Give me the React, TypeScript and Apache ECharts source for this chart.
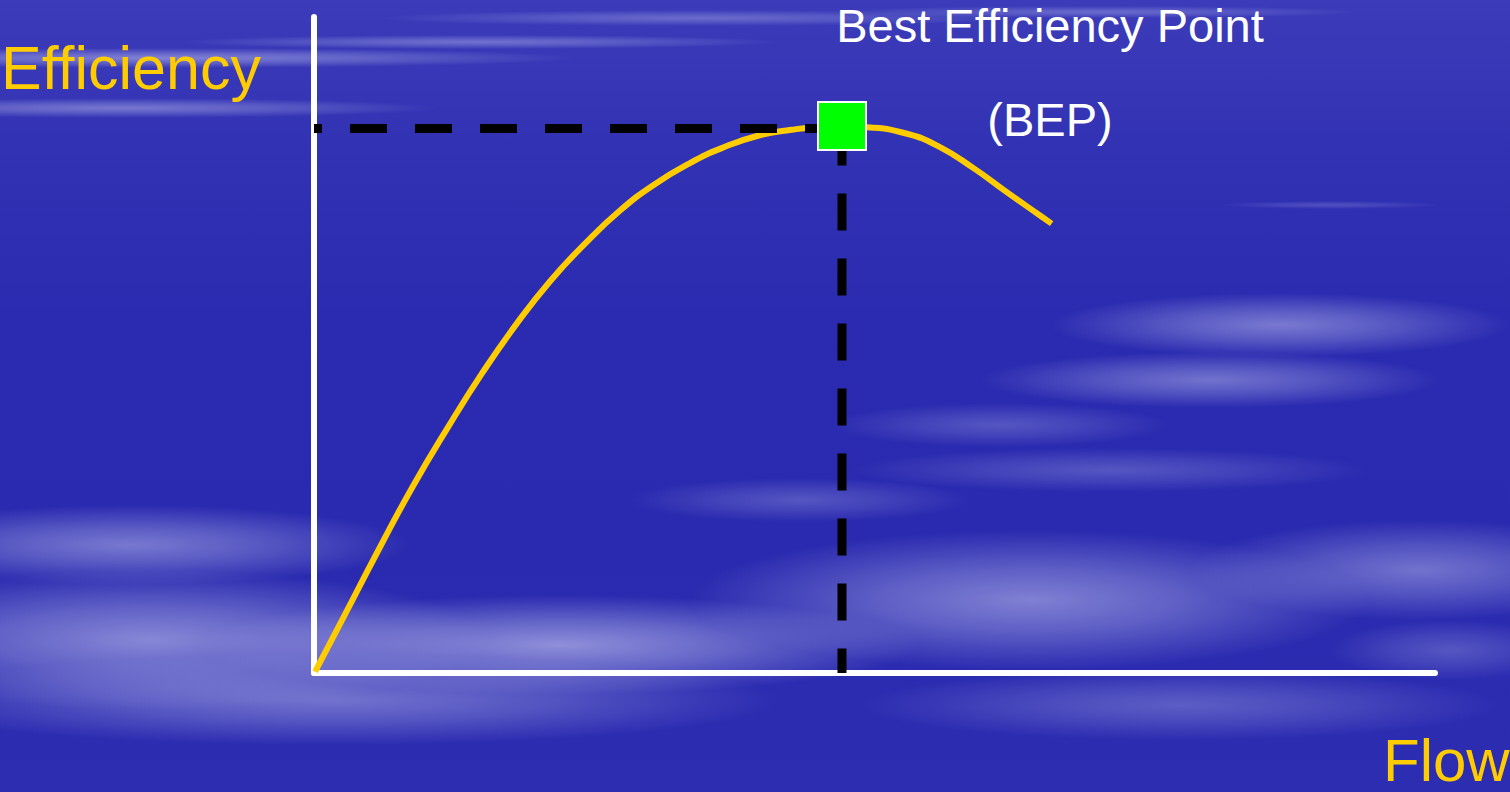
import React, { useEffect, useRef } from "react";
import * as echarts from "echarts";

// Efficiency curve (Flow %, Efficiency %)
const flow = [0.1, 2.7, 5.8, 8.8, 12.0, 15.0, 18.1, 21.1, 24.2, 27.3, 30.3, 33.5, 36.5, 39.6, 42.6, 44.8, 47.2, 49.3, 52.9, 55.8, 58.8, 61.8, 64.8, 65.8];
const efficiency = [0.2, 8.7, 18.9, 28.4, 37.6, 45.7, 53.3, 59.8, 65.5, 70.5, 74.4, 77.7, 80.1, 81.9, 82.8, 83.2, 83.3, 83.2, 82.2, 80.2, 77.0, 73.3, 69.7, 68.5];
const bepFlow = 47.1;
const bepEfficiency = 83.0;

const xTitle = "Flow";
const yTitle = "Efficiency";
const bepTitle = "Best Efficiency Point";
const bepSub = "(BEP)";

const cloud = (x: number, y: number, w: number, h: number, a: number, c = "185,185,235") =>
  `radial-gradient(ellipse ${w}px ${h}px at ${x}px ${y}px, rgba(${c},${a}) 0%, rgba(${c},${a * 0.6}) 45%, rgba(${c},0) 100%)`;

const background = [
  cloud(160, 58, 420, 10, 0.45, "220,220,250"),
  cloud(480, 42, 300, 7, 0.35, "220,220,250"),
  cloud(120, 108, 320, 10, 0.4, "220,220,250"),
  cloud(700, 18, 320, 8, 0.3, "220,220,250"),
  cloud(1100, 12, 260, 6, 0.3, "220,220,250"),
  cloud(1330, 205, 110, 4, 0.2, "220,220,250"),
  cloud(1280, 325, 230, 32, 0.55),
  cloud(1210, 380, 230, 28, 0.5),
  cloud(1000, 425, 170, 22, 0.3),
  cloud(1110, 470, 260, 22, 0.3),
  cloud(800, 500, 170, 22, 0.3),
  cloud(130, 545, 280, 40, 0.55),
  cloud(150, 640, 340, 70, 0.65),
  cloud(560, 645, 360, 50, 0.7),
  cloud(1030, 600, 340, 70, 0.6),
  cloud(1420, 570, 230, 50, 0.5),
  cloud(330, 700, 450, 45, 0.5),
  cloud(1180, 705, 320, 35, 0.35),
  cloud(1450, 650, 120, 30, 0.3),
  "linear-gradient(to bottom, #3c3cba 0%, #3232b4 18%, #2b2bb1 40%, #2a2ab0 70%, #2d2db2 100%)",
].join(",");

export default function App() {
  const ref = useRef<HTMLDivElement>(null);

  useEffect(() => {
    if (!ref.current) return;
    const chart = echarts.init(ref.current, undefined, { renderer: "svg" });
    const curve = flow.map((f, i) => [f, efficiency[i]]);
    const dashStyle = { color: "#000000", width: 9, type: [37, 28] as number[], cap: "butt" as const };
    chart.setOption({
      animation: false,
      backgroundColor: "transparent",
      grid: { left: 314, right: 75, top: 17, bottom: 119 },
      xAxis: {
        type: "value",
        min: 0,
        max: 100,
        axisLine: { show: true, lineStyle: { color: "#ffffff", width: 6 } },
        axisTick: { show: false },
        axisLabel: { show: false },
        splitLine: { show: false },
      },
      yAxis: {
        type: "value",
        min: 0,
        max: 100,
        axisLine: { show: true, lineStyle: { color: "#ffffff", width: 6 } },
        axisTick: { show: false },
        axisLabel: { show: false },
        splitLine: { show: false },
      },
      series: [
        {
          type: "line",
          data: curve,
          smooth: 0.5,
          showSymbol: false,
          symbol: "none",
          lineStyle: { color: "#FFCC00", width: 6 },
          z: 2,
        },
        {
          type: "line",
          data: [[bepFlow, bepEfficiency], [0, bepEfficiency]],
          symbol: "none",
          lineStyle: dashStyle,
          z: 3,
        },
        {
          type: "line",
          data: [[bepFlow, bepEfficiency], [bepFlow, 0]],
          symbol: "none",
          lineStyle: dashStyle,
          z: 3,
        },
        {
          type: "scatter",
          data: [[bepFlow, bepEfficiency + 0.4]],
          symbol: "rect",
          symbolSize: 48,
          itemStyle: { color: "#00FF00", borderColor: "#ffffff", borderWidth: 2, opacity: 1 },
          z: 5,
        },
      ],
      graphic: [
        {
          type: "text",
          left: 1,
          top: 37,
          style: { text: yTitle, fill: "#FFCC00", font: '61px "Liberation Sans", Arial, sans-serif' },
        },
        {
          type: "text",
          x: 1383,
          y: 790,
          style: {
            text: xTitle,
            fill: "#FFCC00",
            font: '60px "Liberation Sans", Arial, sans-serif',
            textVerticalAlign: "bottom",
          },
          z: 10,
        },
        {
          type: "text",
          x: 1050,
          y: 45,
          style: {
            text: bepTitle,
            fill: "#ffffff",
            font: '47px "Liberation Sans", Arial, sans-serif',
            lineHeight: 40,
            textAlign: "center",
            textVerticalAlign: "bottom",
          },
        },
        {
          type: "text",
          x: 1050,
          y: 143,
          style: {
            text: bepSub,
            fill: "#ffffff",
            font: '47px "Liberation Sans", Arial, sans-serif',
            textAlign: "center",
            textVerticalAlign: "bottom",
          },
        },
      ],
    });
    return () => chart.dispose();
  }, []);

  return (
    <div
      style={{ position: "fixed", left: 0, top: 0, width: 1510, height: 792, background, overflow: "hidden" }}
    >
      <div ref={ref} style={{ width: 1510, height: 792 }} />
    </div>
  );
}
